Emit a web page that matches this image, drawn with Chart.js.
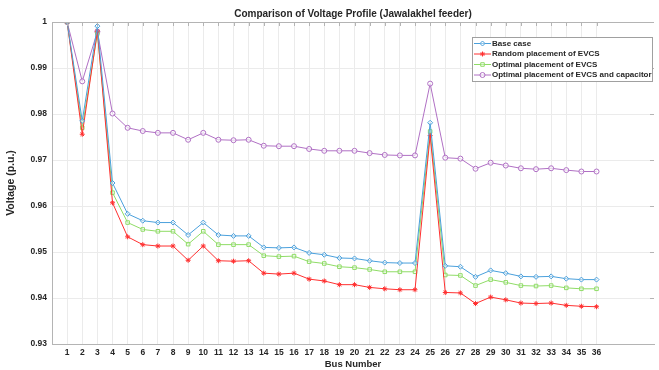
<!DOCTYPE html>
<html>
<head>
<meta charset="utf-8">
<script src="https://cdn.jsdelivr.net/npm/chart.js@4.4.1/dist/chart.umd.min.js"></script>
<style>
  html, body { margin: 0; padding: 0; background: #fff; }
  #wrap { width: 659px; height: 370px; }
</style>
</head>
<body>
<div id="wrap"><canvas id="chart" width="659" height="370"></canvas></div>
<script>
const buses = Array.from({ length: 36 }, (_, i) => i + 1);

const baseCase = [
    1.0, 0.9785, 0.9991, 0.9650, 0.9583, 0.9568, 0.9564, 0.9564, 0.9537, 0.9564,
    0.9537, 0.9535, 0.9535, 0.9510, 0.9509, 0.9510, 0.9498, 0.9494, 0.9487, 0.9486,
    0.9481, 0.9477, 0.9476, 0.9476, 0.9781, 0.9470, 0.9468, 0.9446, 0.9460, 0.9454,
    0.9447, 0.9446, 0.9447, 0.9442, 0.9440, 0.9440,
];
const randomEvcs = [
    1.0, 0.9756, 0.9980, 0.9607, 0.9533, 0.9516, 0.9513, 0.9513, 0.9482, 0.9513,
    0.9481, 0.9480, 0.9481, 0.9454, 0.9452, 0.9454, 0.9441, 0.9437, 0.9429, 0.9429,
    0.9423, 0.9420, 0.9418, 0.9418, 0.9753, 0.9412, 0.9411, 0.9388, 0.9402, 0.9396,
    0.9389, 0.9388, 0.9389, 0.9384, 0.9382, 0.9381,
];
const optimalEvcs = [
    1.0, 0.9770, 0.9975, 0.9629, 0.9564, 0.9549, 0.9545, 0.9545, 0.9517, 0.9545,
    0.9516, 0.9516, 0.9516, 0.9492, 0.9490, 0.9491, 0.9479, 0.9475, 0.9468, 0.9466,
    0.9462, 0.9457, 0.9457, 0.9457, 0.9762, 0.9450, 0.9449, 0.9427, 0.9440, 0.9434,
    0.9427, 0.9426, 0.9427, 0.9422, 0.9420, 0.9420,
];
const optimalEvcsCap = [
    1.0, 0.9871, 0.9979, 0.9801, 0.9770, 0.9763, 0.9759, 0.9759, 0.9744, 0.9759,
    0.9744, 0.9743, 0.9744, 0.9731, 0.9730, 0.9730, 0.9724, 0.9720, 0.9720, 0.9720,
    0.9715, 0.9711, 0.9710, 0.9710, 0.9866, 0.9705, 0.9703, 0.9681, 0.9694, 0.9688,
    0.9682, 0.9680, 0.9682, 0.9678, 0.9675, 0.9675,
];
const yTicks = [0.93, 0.94, 0.95, 0.96, 0.97, 0.98, 0.99, 1];

const FONT = '"Liberation Sans", Arial, sans-serif';
const TEXT = '#262626';
const AXIS = '#b4b4b4';
const GRID = '#ebebeb';

function series(label, values, color, pointStyle, fill) {
    return {
        label,
        data: buses.map((b, i) => ({ x: b, y: values[i] })),
        borderColor: color,
        backgroundColor: fill,
        borderWidth: 1,
        pointStyle,
        pointRadius: 2.5,
        pointBorderWidth: 1,
        pointBorderColor: color,
        pointBackgroundColor: fill,
        tension: 0,
    };
}

// MATLAB style box: top line, inward ticks on top and right, legend box
const boxAndLegend = {
    id: 'boxAndLegend',
    afterDraw(chart) {
        const { ctx, chartArea: a, scales } = chart;
        ctx.save();
        ctx.strokeStyle = AXIS;
        ctx.lineWidth = 1;
        ctx.beginPath();
        ctx.moveTo(a.left, a.top + 0.5);
        ctx.lineTo(a.right, a.top + 0.5);
        buses.forEach((b) => {
            const x = Math.round(scales.x.getPixelForValue(b)) + 0.5;
            ctx.moveTo(x, a.top);
            ctx.lineTo(x, a.top + 4);
        });
        yTicks.forEach((v) => {
            const y = Math.round(scales.y.getPixelForValue(v)) + 0.5;
            ctx.moveTo(a.right, y);
            ctx.lineTo(a.right - 4, y);
        });
        ctx.stroke();

        // legend
        const lx = 472, ly = 37, lw = 180, lh = 44;
        ctx.fillStyle = '#fff';
        ctx.fillRect(lx, ly, lw, lh);
        ctx.strokeStyle = '#a0a0a0';
        ctx.strokeRect(lx + 0.5, ly + 0.5, lw, lh);
        ctx.font = 'bold 8px ' + FONT;
        ctx.textBaseline = 'middle';
        chart.data.datasets.forEach((ds, i) => {
            const y = ly + 6.5 + i * 10.5;
            ctx.strokeStyle = ds.borderColor;
            ctx.beginPath();
            ctx.moveTo(lx + 2, y);
            ctx.lineTo(lx + 19, y);
            ctx.stroke();
            ctx.fillStyle = ds.pointBackgroundColor;
            ctx.lineWidth = 1;
            Chart.helpers.drawPoint(ctx, { pointStyle: ds.pointStyle, radius: 2.5, borderWidth: 1 }, lx + 10.5, y);
            ctx.fillStyle = TEXT;
            ctx.fillText(ds.label, lx + 20, y);
        });
        ctx.restore();
    },
};

new Chart(document.getElementById('chart'), {
    type: 'line',
    data: {
        datasets: [
            series('Base case', baseCase, '#4aa0dc', 'rectRot', 'rgba(255,255,255,0.4)'),
            series('Random placement of EVCS', randomEvcs, '#ff3030', 'star', '#ff3030'),
            series('Optimal placement of EVCS', optimalEvcs, '#8fdc66', 'rect', 'rgba(255,255,255,0.4)'),
            series('Optimal placement of EVCS and capacitor', optimalEvcsCap, '#b070c4', 'circle', 'rgba(255,255,255,0.6)'),
        ],
    },
    options: {
        responsive: false,
        animation: false,
        layout: { padding: { left: 0, right: 0, top: 0, bottom: 0 } },
        plugins: {
            legend: { display: false },
            tooltip: { enabled: false },
            title: {
                display: true,
                fullSize: false,
                text: 'Comparison of Voltage Profile (Jawalakhel feeder)',
                color: TEXT,
                font: { family: FONT, size: 10, weight: 'bold' },
                padding: { top: 8, bottom: 2 },
                position: 'top',
            },
        },
        scales: {
            x: {
                type: 'linear',
                min: 0,
                max: 39.8,
                afterBuildTicks: (scale) => {
                    scale.ticks = buses.map((value) => ({ value }));
                },
                afterFit: (scale) => { scale.height = 26; },
                border: { display: true, color: AXIS },
                grid: { color: GRID, drawTicks: false },
                ticks: {
                    color: TEXT,
                    font: { family: FONT, size: 8.5, weight: 'bold' },
                    padding: 4,
                    autoSkip: false,
                    maxRotation: 0,
                    callback: (v) => String(v),
                },
                title: {
                    display: true,
                    text: 'Bus Number',
                    color: TEXT,
                    font: { family: FONT, size: 9.5, weight: 'bold' },
                    padding: { top: 0, bottom: 0 },
                },
            },
            y: {
                min: 0.93,
                max: 1,
                afterBuildTicks: (scale) => {
                    scale.ticks = yTicks.map((value) => ({ value }));
                },
                afterFit: (scale) => { scale.width = 52; },
                border: { display: true, color: AXIS },
                grid: { color: GRID, drawTicks: false },
                ticks: {
                    color: TEXT,
                    font: { family: FONT, size: 8.5, weight: 'bold' },
                    padding: 5,
                    callback: (v) => String(Math.round(v * 100) / 100),
                },
                title: {
                    display: true,
                    text: 'Voltage (p.u.)',
                    color: TEXT,
                    font: { family: FONT, size: 10.5, weight: 'bold' },
                    padding: { top: 5, bottom: 0 },
                },
            },
        },
    },
    plugins: [boxAndLegend],
});
</script>
</body>
</html>
